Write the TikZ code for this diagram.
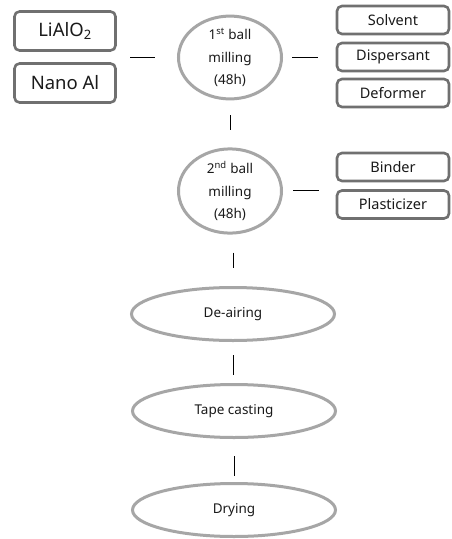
\documentclass[tikz,border=0pt]{standalone}
\usepackage{fontspec}
\setmainfont{Noto Sans}
\usetikzlibrary{shapes.geometric}
\definecolor{boxline}{HTML}{707070}
\definecolor{ovalline}{HTML}{A6A6A6}
\definecolor{ink}{HTML}{1A1A1A}
\begin{document}
\begin{tikzpicture}[x=1pt,y=-1pt,
  rawbox/.style={draw=boxline,line width=2.6pt,rounded corners=5pt,inner sep=0pt,
    text=ink,font=\fontsize{18.5}{20}\selectfont,minimum width=101pt,minimum height=39pt},
  addbox/.style={draw=boxline,line width=2.6pt,rounded corners=5pt,inner sep=0pt,
    text=ink,font=\fontsize{14.5}{16}\selectfont,minimum width=112pt,minimum height=28pt},
  mill/.style={ellipse,draw=ovalline,line width=3pt,inner sep=0pt,align=center,
    text=ink,font=\fontsize{13.5}{22.5}\selectfont,minimum width=103pt,minimum height=80pt},
  stage/.style={ellipse,draw=ovalline,line width=3pt,inner sep=0pt,
    text=ink,font=\fontsize{13.5}{15}\selectfont,minimum width=203pt,minimum height=53pt},
  link/.style={draw=black,line width=1pt}]
\useasboundingbox (0,0) rectangle (452,539);
\fill[white] (0,0) rectangle (452,539);

% raw powders
\node[rawbox] (lialo) at (65,31) {LiAlO\textsubscript{2}};
\node[rawbox] (nanoal) at (65,83) {Nano Al};

% first milling and its additives
\node[mill] (mill1) at (230,57.5) {1\textsuperscript{st} ball\\milling\\(48h)};
\node[addbox] (solvent) at (393,20) {Solvent};
\node[addbox] (dispersant) at (393,57) {Dispersant};
\node[addbox] (deformer) at (393,93) {Deformer};

% second milling and its additives
\node[mill] (mill2) at (230,191) {2\textsuperscript{nd} ball\\milling\\(48h)};
\node[addbox] (binder) at (393,167) {Binder};
\node[addbox] (plasticizer) at (393,204.5) {Plasticizer};

% process stages
\node[stage] (deair) at (233,314) {De-airing};
\node[stage] (tape) at (234,411) {Tape casting};
\node[stage] (dry) at (234,510) {Drying};

% group anchors
\coordinate (rawgroup) at (116,57.5);
\coordinate (addgroup2) at (336,190);

% connectors
\draw[link,shorten <=14pt,shorten >=22pt] (rawgroup) -- (mill1.west);
\draw[link,shorten <=9pt,shorten >=18pt] (mill1.east) -- (dispersant.west |- mill1.east);
\draw[link,shorten <=15pt,shorten >=17pt] (mill1.south) -- (mill2.north);
\draw[link,shorten <=10pt,shorten >=17pt] (mill2.east |- addgroup2) -- (addgroup2);
\draw[link,shorten <=18pt,shorten >=18pt] (deair.north |- mill2.south) -- (deair.north);
\draw[link,shorten <=13pt,shorten >=8pt] (deair.south) -- (tape.north -| deair.south);
\draw[link,shorten <=17pt,shorten >=6pt] (tape.south) -- (dry.north);
\end{tikzpicture}
\end{document}
